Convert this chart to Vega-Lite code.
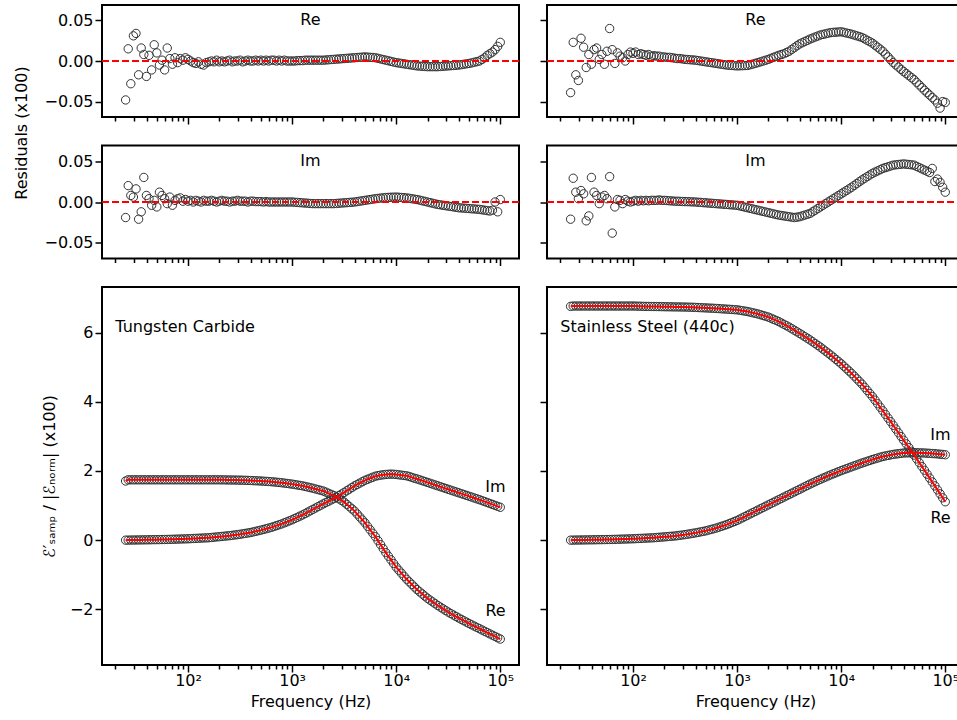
{
"$schema": "https://vega.github.io/schema/vega-lite/v6.json",
"padding": {"left": 12, "top": 4, "right": 0, "bottom": 0},
"autosize": {"type": "pad"},
"bounds": "flush",
"align": "each",
"columns": 2,
"spacing": {"row": 28.5, "column": 28},
"config": {
 "font": "DejaVu Sans",
 "view": {"stroke": "#000", "strokeWidth": 2},
 "axis": {"grid": false, "domain": false, "tickColor": "#000", "tickWidth": 1.5, "tickSize": 7, "labelFontSize": 16, "labelColor": "#000", "labelPadding": 2, "titleFontSize": 16, "titleFontWeight": "normal", "titleColor": "#000", "labelOverlap": false, "labelFlush": false, "labelBound": false}
},
"datasets": {
"wc": [
{"f":25.12,"re":1.71,"im":0,"rr":-0.048,"ri":-0.019},
{"f":26.61,"re":1.745,"im":0.001,"rr":0.015,"ri":0.02},
{"f":28.18,"re":1.745,"im":0.003,"rr":-0.028,"ri":0.008},
{"f":29.85,"re":1.745,"im":0.004,"rr":0.031,"ri":0.006},
{"f":31.62,"re":1.745,"im":0.005,"rr":0.034,"ri":0.016},
{"f":33.5,"re":1.745,"im":0.006,"rr":-0.017,"ri":-0.021},
{"f":35.48,"re":1.745,"im":0.008,"rr":0.016,"ri":-0.012},
{"f":37.58,"re":1.745,"im":0.009,"rr":0.008,"ri":0.03},
{"f":39.81,"re":1.745,"im":0.01,"rr":-0.019,"ri":0.008},
{"f":42.17,"re":1.745,"im":0.011,"rr":0.007,"ri":0.004},
{"f":44.67,"re":1.745,"im":0.013,"rr":-0.011,"ri":-0.004},
{"f":47.32,"re":1.745,"im":0.014,"rr":0.02,"ri":0.002},
{"f":50.12,"re":1.745,"im":0.015,"rr":0.01,"ri":-0.006},
{"f":53.09,"re":1.745,"im":0.016,"rr":-0.005,"ri":0.012},
{"f":56.23,"re":1.745,"im":0.018,"rr":0.001,"ri":0.008},
{"f":59.57,"re":1.745,"im":0.019,"rr":-0.011,"ri":0.004},
{"f":63.1,"re":1.745,"im":0.02,"rr":0.016,"ri":-0.002},
{"f":66.83,"re":1.745,"im":0.023,"rr":0.003,"ri":0.006},
{"f":70.79,"re":1.745,"im":0.025,"rr":-0.004,"ri":-0.004},
{"f":74.99,"re":1.745,"im":0.028,"rr":0.004,"ri":0.002},
{"f":79.43,"re":1.745,"im":0.03,"rr":-0.002,"ri":0.004},
{"f":84.14,"re":1.745,"im":0.033,"rr":0.003,"ri":0.005},
{"f":89.13,"re":1.745,"im":0.035,"rr":0.001,"ri":0.001},
{"f":94.41,"re":1.745,"im":0.038,"rr":0.004,"ri":0.003},
{"f":100,"re":1.745,"im":0.04,"rr":0.002,"ri":0.001},
{"f":105.9,"re":1.745,"im":0.044,"rr":0,"ri":0.002},
{"f":112.2,"re":1.745,"im":0.048,"rr":-0.002,"ri":0},
{"f":118.9,"re":1.745,"im":0.051,"rr":-0.003,"ri":0.002},
{"f":125.9,"re":1.745,"im":0.055,"rr":-0.001,"ri":0.001},
{"f":133.4,"re":1.745,"im":0.059,"rr":-0.004,"ri":0},
{"f":141.3,"re":1.745,"im":0.063,"rr":-0.005,"ri":0.002},
{"f":149.6,"re":1.745,"im":0.066,"rr":-0.002,"ri":0.001},
{"f":158.5,"re":1.745,"im":0.07,"rr":-0.001,"ri":0.001},
{"f":167.9,"re":1.745,"im":0.078,"rr":0,"ri":0.002},
{"f":177.8,"re":1.745,"im":0.085,"rr":-0.001,"ri":0.001},
{"f":188.4,"re":1.745,"im":0.093,"rr":0.001,"ri":0},
{"f":199.5,"re":1.745,"im":0.1,"rr":-0.001,"ri":0.001},
{"f":211.3,"re":1.744,"im":0.108,"rr":0,"ri":0.002},
{"f":223.9,"re":1.743,"im":0.115,"rr":-0.001,"ri":0.001},
{"f":237.1,"re":1.741,"im":0.123,"rr":0,"ri":0.001},
{"f":251.2,"re":1.74,"im":0.13,"rr":0.001,"ri":0},
{"f":266.1,"re":1.739,"im":0.14,"rr":-0.001,"ri":0.001},
{"f":281.8,"re":1.738,"im":0.15,"rr":0,"ri":0.001},
{"f":298.5,"re":1.736,"im":0.16,"rr":0,"ri":0.002},
{"f":316.2,"re":1.735,"im":0.17,"rr":0.001,"ri":0.001},
{"f":335,"re":1.733,"im":0.183,"rr":-0.001,"ri":0.001},
{"f":354.8,"re":1.73,"im":0.195,"rr":0,"ri":0.001},
{"f":375.8,"re":1.728,"im":0.208,"rr":0.001,"ri":0},
{"f":398.1,"re":1.725,"im":0.22,"rr":0,"ri":0.001},
{"f":421.7,"re":1.721,"im":0.238,"rr":0,"ri":0.001},
{"f":446.7,"re":1.718,"im":0.255,"rr":0.001,"ri":0.0005},
{"f":473.2,"re":1.714,"im":0.273,"rr":0,"ri":0.0005},
{"f":501.2,"re":1.71,"im":0.29,"rr":0.001,"ri":0.0005},
{"f":530.9,"re":1.705,"im":0.31,"rr":0,"ri":0},
{"f":562.3,"re":1.7,"im":0.33,"rr":0.001,"ri":0.0005},
{"f":595.7,"re":1.695,"im":0.35,"rr":0,"ri":0},
{"f":631,"re":1.69,"im":0.37,"rr":0.001,"ri":0},
{"f":668.3,"re":1.683,"im":0.395,"rr":0.001,"ri":0},
{"f":707.9,"re":1.675,"im":0.42,"rr":0,"ri":0},
{"f":749.9,"re":1.668,"im":0.445,"rr":0.001,"ri":0},
{"f":794.3,"re":1.66,"im":0.47,"rr":0,"ri":0},
{"f":841.4,"re":1.65,"im":0.5,"rr":0.001,"ri":0},
{"f":891.3,"re":1.64,"im":0.53,"rr":0,"ri":0},
{"f":944.1,"re":1.63,"im":0.56,"rr":0,"ri":0},
{"f":1000,"re":1.62,"im":0.59,"rr":0,"ri":0},
{"f":1059,"re":1.608,"im":0.625,"rr":0,"ri":-0.0003},
{"f":1122,"re":1.595,"im":0.66,"rr":0.0005,"ri":-0.0005},
{"f":1189,"re":1.583,"im":0.695,"rr":0.0005,"ri":-0.0008},
{"f":1259,"re":1.57,"im":0.73,"rr":0.0005,"ri":-0.001},
{"f":1334,"re":1.553,"im":0.77,"rr":0.001,"ri":-0.0013},
{"f":1413,"re":1.535,"im":0.81,"rr":0.001,"ri":-0.0015},
{"f":1496,"re":1.518,"im":0.85,"rr":0.001,"ri":-0.0018},
{"f":1585,"re":1.5,"im":0.89,"rr":0.001,"ri":-0.002},
{"f":1679,"re":1.48,"im":0.93,"rr":0.001,"ri":-0.002},
{"f":1778,"re":1.46,"im":0.97,"rr":0.001,"ri":-0.002},
{"f":1884,"re":1.44,"im":1.01,"rr":0.001,"ri":-0.002},
{"f":1995,"re":1.42,"im":1.05,"rr":0.001,"ri":-0.002},
{"f":2113,"re":1.388,"im":1.088,"rr":0.0013,"ri":-0.002},
{"f":2239,"re":1.355,"im":1.125,"rr":0.0015,"ri":-0.002},
{"f":2371,"re":1.323,"im":1.163,"rr":0.0018,"ri":-0.002},
{"f":2512,"re":1.29,"im":1.2,"rr":0.002,"ri":-0.002},
{"f":2661,"re":1.243,"im":1.245,"rr":0.0023,"ri":-0.0018},
{"f":2818,"re":1.195,"im":1.29,"rr":0.0025,"ri":-0.0015},
{"f":2985,"re":1.148,"im":1.335,"rr":0.0028,"ri":-0.0013},
{"f":3162,"re":1.1,"im":1.38,"rr":0.003,"ri":-0.001},
{"f":3350,"re":1.035,"im":1.428,"rr":0.0033,"ri":-0.0008},
{"f":3548,"re":0.97,"im":1.475,"rr":0.0035,"ri":-0.0005},
{"f":3758,"re":0.905,"im":1.523,"rr":0.0038,"ri":-0.0003},
{"f":3981,"re":0.84,"im":1.57,"rr":0.004,"ri":0},
{"f":4217,"re":0.755,"im":1.61,"rr":0.0043,"ri":0.0005},
{"f":4467,"re":0.67,"im":1.65,"rr":0.0045,"ri":0.001},
{"f":4732,"re":0.585,"im":1.69,"rr":0.0048,"ri":0.0015},
{"f":5012,"re":0.5,"im":1.73,"rr":0.005,"ri":0.002},
{"f":5309,"re":0.4,"im":1.76,"rr":0.0048,"ri":0.0025},
{"f":5623,"re":0.3,"im":1.79,"rr":0.0045,"ri":0.003},
{"f":5957,"re":0.2,"im":1.82,"rr":0.0043,"ri":0.0035},
{"f":6310,"re":0.1,"im":1.85,"rr":0.004,"ri":0.004},
{"f":6683,"re":-0.015,"im":1.865,"rr":0.0033,"ri":0.0044},
{"f":7079,"re":-0.13,"im":1.88,"rr":0.0025,"ri":0.0048},
{"f":7499,"re":-0.245,"im":1.89,"rr":0.0018,"ri":0.0051},
{"f":7943,"re":-0.36,"im":1.9,"rr":0.001,"ri":0.0055},
{"f":8414,"re":-0.465,"im":1.905,"rr":0.0003,"ri":0.0056},
{"f":8913,"re":-0.57,"im":1.91,"rr":-0.0005,"ri":0.0058},
{"f":9441,"re":-0.675,"im":1.905,"rr":-0.0013,"ri":0.0059},
{"f":10000,"re":-0.78,"im":1.9,"rr":-0.002,"ri":0.006},
{"f":10590,"re":-0.868,"im":1.89,"rr":-0.0025,"ri":0.0058},
{"f":11220,"re":-0.955,"im":1.88,"rr":-0.003,"ri":0.0055},
{"f":11890,"re":-1.043,"im":1.87,"rr":-0.0035,"ri":0.0053},
{"f":12590,"re":-1.13,"im":1.86,"rr":-0.004,"ri":0.005},
{"f":13340,"re":-1.205,"im":1.84,"rr":-0.0045,"ri":0.0045},
{"f":14130,"re":-1.28,"im":1.815,"rr":-0.005,"ri":0.004},
{"f":14960,"re":-1.355,"im":1.79,"rr":-0.0055,"ri":0.0035},
{"f":15850,"re":-1.43,"im":1.77,"rr":-0.006,"ri":0.003},
{"f":16790,"re":-1.493,"im":1.745,"rr":-0.0063,"ri":0.0023},
{"f":17780,"re":-1.555,"im":1.72,"rr":-0.0065,"ri":0.0015},
{"f":18840,"re":-1.618,"im":1.695,"rr":-0.0068,"ri":0.0008},
{"f":19950,"re":-1.68,"im":1.67,"rr":-0.007,"ri":0},
{"f":21130,"re":-1.733,"im":1.645,"rr":-0.007,"ri":-0.0008},
{"f":22390,"re":-1.785,"im":1.62,"rr":-0.007,"ri":-0.0015},
{"f":23710,"re":-1.838,"im":1.595,"rr":-0.007,"ri":-0.0023},
{"f":25120,"re":-1.89,"im":1.57,"rr":-0.007,"ri":-0.003},
{"f":26610,"re":-1.938,"im":1.545,"rr":-0.0068,"ri":-0.0035},
{"f":28180,"re":-1.985,"im":1.52,"rr":-0.0065,"ri":-0.004},
{"f":29850,"re":-2.033,"im":1.495,"rr":-0.0063,"ri":-0.0045},
{"f":31620,"re":-2.08,"im":1.47,"rr":-0.006,"ri":-0.005},
{"f":33500,"re":-2.123,"im":1.445,"rr":-0.0058,"ri":-0.0055},
{"f":35480,"re":-2.165,"im":1.42,"rr":-0.0055,"ri":-0.006},
{"f":37580,"re":-2.208,"im":1.395,"rr":-0.0053,"ri":-0.0065},
{"f":39810,"re":-2.25,"im":1.37,"rr":-0.005,"ri":-0.007},
{"f":42170,"re":-2.29,"im":1.345,"rr":-0.0045,"ri":-0.0073},
{"f":44670,"re":-2.33,"im":1.32,"rr":-0.004,"ri":-0.0075},
{"f":47320,"re":-2.37,"im":1.295,"rr":-0.0035,"ri":-0.0078},
{"f":50120,"re":-2.41,"im":1.27,"rr":-0.003,"ri":-0.008},
{"f":53090,"re":-2.448,"im":1.245,"rr":-0.0023,"ri":-0.0083},
{"f":56230,"re":-2.485,"im":1.22,"rr":-0.0015,"ri":-0.0085},
{"f":59570,"re":-2.523,"im":1.195,"rr":-0.0008,"ri":-0.0088},
{"f":63100,"re":-2.56,"im":1.17,"rr":0,"ri":-0.009},
{"f":66830,"re":-2.598,"im":1.143,"rr":0.002,"ri":-0.0095},
{"f":70790,"re":-2.635,"im":1.115,"rr":0.004,"ri":-0.01},
{"f":74990,"re":-2.673,"im":1.088,"rr":0.007,"ri":-0.0105},
{"f":79430,"re":-2.71,"im":1.06,"rr":0.009,"ri":-0.011},
{"f":84140,"re":-2.748,"im":1.033,"rr":0.011,"ri":-0.01},
{"f":89130,"re":-2.785,"im":1.005,"rr":0.014,"ri":0},
{"f":94410,"re":-2.823,"im":0.978,"rr":0.018,"ri":-0.012},
{"f":100000,"re":-2.86,"im":0.95,"rr":0.023,"ri":0.003}
],
"ss": [
{"f":25.12,"re":6.76,"im":0,"rr":-0.039,"ri":-0.021},
{"f":26.61,"re":6.77,"im":0.001,"rr":0.023,"ri":0.029},
{"f":28.18,"re":6.77,"im":0.003,"rr":-0.017,"ri":0.012},
{"f":29.85,"re":6.77,"im":0.004,"rr":-0.024,"ri":0.004},
{"f":31.62,"re":6.77,"im":0.005,"rr":0.028,"ri":0.014},
{"f":33.5,"re":6.77,"im":0.006,"rr":0.017,"ri":0.01},
{"f":35.48,"re":6.77,"im":0.008,"rr":-0.008,"ri":-0.023},
{"f":37.58,"re":6.77,"im":0.009,"rr":0.008,"ri":-0.017},
{"f":39.81,"re":6.77,"im":0.01,"rr":-0.004,"ri":0.03},
{"f":42.17,"re":6.77,"im":0.011,"rr":0.014,"ri":0.012},
{"f":44.67,"re":6.77,"im":0.013,"rr":0.016,"ri":0.008},
{"f":47.32,"re":6.77,"im":0.014,"rr":0.002,"ri":-0.002},
{"f":50.12,"re":6.77,"im":0.015,"rr":0.008,"ri":0.006},
{"f":53.09,"re":6.77,"im":0.016,"rr":-0.004,"ri":0.008},
{"f":56.23,"re":6.77,"im":0.018,"rr":0.012,"ri":0.004},
{"f":59.57,"re":6.77,"im":0.019,"rr":0.04,"ri":0.031},
{"f":63.1,"re":6.77,"im":0.02,"rr":0.014,"ri":-0.038},
{"f":66.83,"re":6.77,"im":0.023,"rr":-0.003,"ri":-0.006},
{"f":70.79,"re":6.77,"im":0.025,"rr":0.01,"ri":0.003},
{"f":74.99,"re":6.77,"im":0.028,"rr":0.006,"ri":0.002},
{"f":79.43,"re":6.77,"im":0.03,"rr":0.004,"ri":-0.002},
{"f":84.14,"re":6.77,"im":0.033,"rr":0,"ri":0.003},
{"f":89.13,"re":6.77,"im":0.035,"rr":0.008,"ri":0.001},
{"f":94.41,"re":6.77,"im":0.038,"rr":0.011,"ri":0},
{"f":100,"re":6.77,"im":0.04,"rr":0.0095,"ri":0.001},
{"f":105.9,"re":6.768,"im":0.044,"rr":0.011,"ri":0.002},
{"f":112.2,"re":6.765,"im":0.048,"rr":0.008,"ri":0.001},
{"f":118.9,"re":6.763,"im":0.051,"rr":0.009,"ri":0.002},
{"f":125.9,"re":6.76,"im":0.055,"rr":0.008,"ri":0.0015},
{"f":133.4,"re":6.759,"im":0.059,"rr":0.007,"ri":0.002},
{"f":141.3,"re":6.758,"im":0.063,"rr":0.008,"ri":0.0015},
{"f":149.6,"re":6.757,"im":0.066,"rr":0.006,"ri":0.002},
{"f":158.5,"re":6.756,"im":0.07,"rr":0.0065,"ri":0.002},
{"f":167.9,"re":6.755,"im":0.076,"rr":0.006,"ri":0.002},
{"f":177.8,"re":6.754,"im":0.083,"rr":0.006,"ri":0.0025},
{"f":188.4,"re":6.752,"im":0.089,"rr":0.005,"ri":0.002},
{"f":199.5,"re":6.75,"im":0.095,"rr":0.005,"ri":0.002},
{"f":211.3,"re":6.749,"im":0.101,"rr":0.0045,"ri":0.0018},
{"f":223.9,"re":6.748,"im":0.108,"rr":0.0045,"ri":0.0015},
{"f":237.1,"re":6.746,"im":0.114,"rr":0.004,"ri":0.0013},
{"f":251.2,"re":6.745,"im":0.12,"rr":0.0035,"ri":0.001},
{"f":266.1,"re":6.744,"im":0.13,"rr":0.003,"ri":0.0009},
{"f":281.8,"re":6.743,"im":0.14,"rr":0.003,"ri":0.0008},
{"f":298.5,"re":6.741,"im":0.15,"rr":0.0025,"ri":0.0006},
{"f":316.2,"re":6.74,"im":0.16,"rr":0.002,"ri":0.0005},
{"f":335,"re":6.738,"im":0.173,"rr":0.0018,"ri":0.0004},
{"f":354.8,"re":6.735,"im":0.185,"rr":0.0015,"ri":0.0003},
{"f":375.8,"re":6.733,"im":0.198,"rr":0.0013,"ri":0.0001},
{"f":398.1,"re":6.73,"im":0.21,"rr":0.001,"ri":0},
{"f":421.7,"re":6.726,"im":0.225,"rr":0.0005,"ri":-0.0003},
{"f":446.7,"re":6.722,"im":0.24,"rr":0,"ri":-0.0005},
{"f":473.2,"re":6.719,"im":0.255,"rr":-0.0005,"ri":-0.0008},
{"f":501.2,"re":6.715,"im":0.27,"rr":-0.001,"ri":-0.001},
{"f":530.9,"re":6.711,"im":0.29,"rr":-0.0015,"ri":-0.0013},
{"f":562.3,"re":6.708,"im":0.31,"rr":-0.002,"ri":-0.0015},
{"f":595.7,"re":6.704,"im":0.33,"rr":-0.0025,"ri":-0.0018},
{"f":631,"re":6.7,"im":0.35,"rr":-0.003,"ri":-0.002},
{"f":668.3,"re":6.695,"im":0.375,"rr":-0.0035,"ri":-0.0023},
{"f":707.9,"re":6.69,"im":0.4,"rr":-0.004,"ri":-0.0025},
{"f":749.9,"re":6.685,"im":0.425,"rr":-0.0045,"ri":-0.0028},
{"f":794.3,"re":6.68,"im":0.45,"rr":-0.005,"ri":-0.003},
{"f":841.4,"re":6.675,"im":0.48,"rr":-0.0053,"ri":-0.0033},
{"f":891.3,"re":6.67,"im":0.51,"rr":-0.0055,"ri":-0.0035},
{"f":944.1,"re":6.665,"im":0.54,"rr":-0.0058,"ri":-0.0038},
{"f":1000,"re":6.66,"im":0.57,"rr":-0.006,"ri":-0.004},
{"f":1059,"re":6.648,"im":0.608,"rr":-0.0059,"ri":-0.0048},
{"f":1122,"re":6.635,"im":0.645,"rr":-0.0058,"ri":-0.0055},
{"f":1189,"re":6.623,"im":0.683,"rr":-0.0056,"ri":-0.0063},
{"f":1259,"re":6.61,"im":0.72,"rr":-0.0055,"ri":-0.007},
{"f":1334,"re":6.593,"im":0.758,"rr":-0.0046,"ri":-0.0078},
{"f":1413,"re":6.575,"im":0.795,"rr":-0.0038,"ri":-0.0085},
{"f":1496,"re":6.558,"im":0.833,"rr":-0.0029,"ri":-0.0093},
{"f":1585,"re":6.54,"im":0.87,"rr":-0.002,"ri":-0.01},
{"f":1679,"re":6.518,"im":0.908,"rr":-0.001,"ri":-0.0108},
{"f":1778,"re":6.495,"im":0.945,"rr":0,"ri":-0.0115},
{"f":1884,"re":6.473,"im":0.983,"rr":0.001,"ri":-0.0123},
{"f":1995,"re":6.45,"im":1.02,"rr":0.002,"ri":-0.013},
{"f":2113,"re":6.418,"im":1.058,"rr":0.0033,"ri":-0.0138},
{"f":2239,"re":6.385,"im":1.095,"rr":0.0045,"ri":-0.0145},
{"f":2371,"re":6.353,"im":1.133,"rr":0.0058,"ri":-0.0153},
{"f":2512,"re":6.32,"im":1.17,"rr":0.007,"ri":-0.016},
{"f":2661,"re":6.28,"im":1.208,"rr":0.008,"ri":-0.0165},
{"f":2818,"re":6.24,"im":1.245,"rr":0.009,"ri":-0.017},
{"f":2985,"re":6.2,"im":1.283,"rr":0.0105,"ri":-0.0175},
{"f":3162,"re":6.16,"im":1.32,"rr":0.012,"ri":-0.018},
{"f":3350,"re":6.115,"im":1.358,"rr":0.0143,"ri":-0.0185},
{"f":3548,"re":6.07,"im":1.395,"rr":0.0165,"ri":-0.019},
{"f":3758,"re":6.025,"im":1.433,"rr":0.0188,"ri":-0.0185},
{"f":3981,"re":5.98,"im":1.47,"rr":0.021,"ri":-0.018},
{"f":4217,"re":5.933,"im":1.508,"rr":0.0225,"ri":-0.017},
{"f":4467,"re":5.885,"im":1.545,"rr":0.024,"ri":-0.016},
{"f":4732,"re":5.838,"im":1.583,"rr":0.0255,"ri":-0.015},
{"f":5012,"re":5.79,"im":1.62,"rr":0.027,"ri":-0.014},
{"f":5309,"re":5.738,"im":1.655,"rr":0.0283,"ri":-0.012},
{"f":5623,"re":5.685,"im":1.69,"rr":0.0295,"ri":-0.01},
{"f":5957,"re":5.633,"im":1.725,"rr":0.0308,"ri":-0.008},
{"f":6310,"re":5.58,"im":1.76,"rr":0.032,"ri":-0.006},
{"f":6683,"re":5.523,"im":1.793,"rr":0.0328,"ri":-0.004},
{"f":7079,"re":5.465,"im":1.825,"rr":0.0335,"ri":-0.002},
{"f":7499,"re":5.408,"im":1.858,"rr":0.0343,"ri":0},
{"f":7943,"re":5.35,"im":1.89,"rr":0.035,"ri":0.002},
{"f":8414,"re":5.288,"im":1.92,"rr":0.0353,"ri":0.004},
{"f":8913,"re":5.225,"im":1.95,"rr":0.0355,"ri":0.006},
{"f":9441,"re":5.163,"im":1.98,"rr":0.0358,"ri":0.008},
{"f":10000,"re":5.1,"im":2.01,"rr":0.036,"ri":0.01},
{"f":10590,"re":5.03,"im":2.038,"rr":0.0353,"ri":0.012},
{"f":11220,"re":4.96,"im":2.065,"rr":0.0345,"ri":0.014},
{"f":11890,"re":4.89,"im":2.093,"rr":0.0338,"ri":0.016},
{"f":12590,"re":4.82,"im":2.12,"rr":0.033,"ri":0.018},
{"f":13340,"re":4.743,"im":2.148,"rr":0.032,"ri":0.0203},
{"f":14130,"re":4.665,"im":2.175,"rr":0.031,"ri":0.0225},
{"f":14960,"re":4.588,"im":2.203,"rr":0.03,"ri":0.0248},
{"f":15850,"re":4.51,"im":2.23,"rr":0.029,"ri":0.027},
{"f":16790,"re":4.42,"im":2.255,"rr":0.0273,"ri":0.029},
{"f":17780,"re":4.33,"im":2.28,"rr":0.0255,"ri":0.031},
{"f":18840,"re":4.24,"im":2.305,"rr":0.0238,"ri":0.033},
{"f":19950,"re":4.15,"im":2.33,"rr":0.022,"ri":0.035},
{"f":21130,"re":4.048,"im":2.353,"rr":0.0195,"ri":0.0365},
{"f":22390,"re":3.945,"im":2.375,"rr":0.017,"ri":0.038},
{"f":23710,"re":3.843,"im":2.398,"rr":0.0145,"ri":0.0395},
{"f":25120,"re":3.74,"im":2.42,"rr":0.012,"ri":0.041},
{"f":26610,"re":3.635,"im":2.435,"rr":0.0085,"ri":0.042},
{"f":28180,"re":3.53,"im":2.45,"rr":0.005,"ri":0.043},
{"f":29850,"re":3.425,"im":2.465,"rr":0.0015,"ri":0.044},
{"f":31620,"re":3.32,"im":2.48,"rr":-0.002,"ri":0.045},
{"f":33500,"re":3.213,"im":2.49,"rr":-0.0048,"ri":0.0454},
{"f":35480,"re":3.105,"im":2.5,"rr":-0.0075,"ri":0.0458},
{"f":37580,"re":2.998,"im":2.51,"rr":-0.0103,"ri":0.0461},
{"f":39810,"re":2.89,"im":2.52,"rr":-0.013,"ri":0.0465},
{"f":42170,"re":2.783,"im":2.523,"rr":-0.0155,"ri":0.0461},
{"f":44670,"re":2.675,"im":2.525,"rr":-0.018,"ri":0.0458},
{"f":47320,"re":2.568,"im":2.528,"rr":-0.0205,"ri":0.0454},
{"f":50120,"re":2.46,"im":2.53,"rr":-0.023,"ri":0.045},
{"f":53090,"re":2.35,"im":2.528,"rr":-0.0263,"ri":0.0435},
{"f":56230,"re":2.24,"im":2.525,"rr":-0.0295,"ri":0.042},
{"f":59570,"re":2.13,"im":2.523,"rr":-0.0328,"ri":0.0405},
{"f":63100,"re":2.02,"im":2.52,"rr":-0.036,"ri":0.039},
{"f":66830,"re":1.908,"im":2.515,"rr":-0.039,"ri":0.0375},
{"f":70790,"re":1.795,"im":2.51,"rr":-0.042,"ri":0.036},
{"f":74990,"re":1.683,"im":2.505,"rr":-0.045,"ri":0.041},
{"f":79430,"re":1.57,"im":2.5,"rr":-0.048,"ri":0.025},
{"f":84140,"re":1.455,"im":2.493,"rr":-0.052,"ri":0.028},
{"f":89130,"re":1.34,"im":2.485,"rr":-0.058,"ri":0.024},
{"f":94410,"re":1.225,"im":2.478,"rr":-0.05,"ri":0.018},
{"f":100000,"re":1.11,"im":2.47,"rr":-0.051,"ri":0.012}
]
},
"concat": [
{
 "width": 417, "height": 112,
 "layer": [
  {"data": {"name": "wc"}, "mark": {"type": "point", "shape": "circle", "filled": false, "color": "#333333", "strokeWidth": 1, "size": 70, "opacity": 1},
   "encoding": {
    "x": {"field": "f", "type": "quantitative", "scale": {"type": "log", "domain": [14.9, 151300], "nice": false}, "axis": {"values": [20,30,40,50,60,70,80,90,100,200,300,400,500,600,700,800,900,1000,2000,3000,4000,5000,6000,7000,8000,9000,10000,20000,30000,40000,50000,60000,70000,80000,90000,100000], "labels": false, "title": null, "tickSize": {"condition": {"test": "datum.value==100||datum.value==1000||datum.value==10000||datum.value==100000", "value": 7}, "value": 4}}},
    "y": {"field": "rr", "type": "quantitative", "scale": {"domain": [-0.069, 0.069], "nice": false, "zero": false}, "axis": {"values": [-0.05, 0, 0.05], "format": ".2f", "title": "Residuals (x100)", "titleX": -75.7, "titleY": 127.5, "titleAngle": 270, "titleBaseline": "alphabetic"}}
   }},
  {"data": {"values": [{"v": 0}]}, "mark": {"type": "rule", "color": "#ff0000", "strokeWidth": 2, "strokeDash": [7, 3]},
   "encoding": {"y": {"field": "v", "type": "quantitative", "scale": {"domain": [-0.069, 0.069], "nice": false, "zero": false}}}},
  {"data": {"values": [{"f": 1500, "v": 0.05, "t": "Re"}]}, "mark": {"type": "text", "fontSize": 16, "color": "#000", "align": "center", "baseline": "middle"},
   "encoding": {
    "x": {"field": "f", "type": "quantitative", "scale": {"type": "log", "domain": [14.9, 151300], "nice": false}},
    "y": {"field": "v", "type": "quantitative", "scale": {"domain": [-0.069, 0.069], "nice": false, "zero": false}},
    "text": {"field": "t"}}}
 ]
},
{
 "width": 417, "height": 112,
 "layer": [
  {"data": {"name": "ss"}, "mark": {"type": "point", "shape": "circle", "filled": false, "color": "#333333", "strokeWidth": 1, "size": 70, "opacity": 1},
   "encoding": {
    "x": {"field": "f", "type": "quantitative", "scale": {"type": "log", "domain": [14.9, 151300], "nice": false}, "axis": {"values": [20,30,40,50,60,70,80,90,100,200,300,400,500,600,700,800,900,1000,2000,3000,4000,5000,6000,7000,8000,9000,10000,20000,30000,40000,50000,60000,70000,80000,90000,100000], "labels": false, "title": null, "tickSize": {"condition": {"test": "datum.value==100||datum.value==1000||datum.value==10000||datum.value==100000", "value": 7}, "value": 4}}},
    "y": {"field": "rr", "type": "quantitative", "scale": {"domain": [-0.069, 0.069], "nice": false, "zero": false}, "axis": {"values": [-0.05, 0, 0.05], "labels": false, "title": null}}
   }},
  {"data": {"values": [{"v": 0}]}, "mark": {"type": "rule", "color": "#ff0000", "strokeWidth": 2, "strokeDash": [7, 3]},
   "encoding": {"y": {"field": "v", "type": "quantitative", "scale": {"domain": [-0.069, 0.069], "nice": false, "zero": false}}}},
  {"data": {"values": [{"f": 1500, "v": 0.05, "t": "Re"}]}, "mark": {"type": "text", "fontSize": 16, "color": "#000", "align": "center", "baseline": "middle"},
   "encoding": {
    "x": {"field": "f", "type": "quantitative", "scale": {"type": "log", "domain": [14.9, 151300], "nice": false}},
    "y": {"field": "v", "type": "quantitative", "scale": {"domain": [-0.069, 0.069], "nice": false, "zero": false}},
    "text": {"field": "t"}}}
 ]
},
{
 "width": 417, "height": 113,
 "layer": [
  {"data": {"name": "wc"}, "mark": {"type": "point", "shape": "circle", "filled": false, "color": "#333333", "strokeWidth": 1, "size": 70, "opacity": 1},
   "encoding": {
    "x": {"field": "f", "type": "quantitative", "scale": {"type": "log", "domain": [14.9, 151300], "nice": false}, "axis": {"values": [20,30,40,50,60,70,80,90,100,200,300,400,500,600,700,800,900,1000,2000,3000,4000,5000,6000,7000,8000,9000,10000,20000,30000,40000,50000,60000,70000,80000,90000,100000], "labels": false, "title": null, "tickSize": {"condition": {"test": "datum.value==100||datum.value==1000||datum.value==10000||datum.value==100000", "value": 7}, "value": 4}}},
    "y": {"field": "ri", "type": "quantitative", "scale": {"domain": [-0.069, 0.069], "nice": false, "zero": false}, "axis": {"values": [-0.05, 0, 0.05], "format": ".2f", "title": null}}
   }},
  {"data": {"values": [{"v": 0}]}, "mark": {"type": "rule", "color": "#ff0000", "strokeWidth": 2, "strokeDash": [7, 3]},
   "encoding": {"y": {"field": "v", "type": "quantitative", "scale": {"domain": [-0.069, 0.069], "nice": false, "zero": false}}}},
  {"data": {"values": [{"f": 1500, "v": 0.05, "t": "Im"}]}, "mark": {"type": "text", "fontSize": 16, "color": "#000", "align": "center", "baseline": "middle"},
   "encoding": {
    "x": {"field": "f", "type": "quantitative", "scale": {"type": "log", "domain": [14.9, 151300], "nice": false}},
    "y": {"field": "v", "type": "quantitative", "scale": {"domain": [-0.069, 0.069], "nice": false, "zero": false}},
    "text": {"field": "t"}}}
 ]
},
{
 "width": 417, "height": 113,
 "layer": [
  {"data": {"name": "ss"}, "mark": {"type": "point", "shape": "circle", "filled": false, "color": "#333333", "strokeWidth": 1, "size": 70, "opacity": 1},
   "encoding": {
    "x": {"field": "f", "type": "quantitative", "scale": {"type": "log", "domain": [14.9, 151300], "nice": false}, "axis": {"values": [20,30,40,50,60,70,80,90,100,200,300,400,500,600,700,800,900,1000,2000,3000,4000,5000,6000,7000,8000,9000,10000,20000,30000,40000,50000,60000,70000,80000,90000,100000], "labels": false, "title": null, "tickSize": {"condition": {"test": "datum.value==100||datum.value==1000||datum.value==10000||datum.value==100000", "value": 7}, "value": 4}}},
    "y": {"field": "ri", "type": "quantitative", "scale": {"domain": [-0.069, 0.069], "nice": false, "zero": false}, "axis": {"values": [-0.05, 0, 0.05], "labels": false, "title": null}}
   }},
  {"data": {"values": [{"v": 0}]}, "mark": {"type": "rule", "color": "#ff0000", "strokeWidth": 2, "strokeDash": [7, 3]},
   "encoding": {"y": {"field": "v", "type": "quantitative", "scale": {"domain": [-0.069, 0.069], "nice": false, "zero": false}}}},
  {"data": {"values": [{"f": 1500, "v": 0.05, "t": "Im"}]}, "mark": {"type": "text", "fontSize": 16, "color": "#000", "align": "center", "baseline": "middle"},
   "encoding": {
    "x": {"field": "f", "type": "quantitative", "scale": {"type": "log", "domain": [14.9, 151300], "nice": false}},
    "y": {"field": "v", "type": "quantitative", "scale": {"domain": [-0.069, 0.069], "nice": false, "zero": false}},
    "text": {"field": "t"}}}
 ]
},
{
 "width": 417, "height": 378,
 "layer": [
  {"data": {"name": "wc"}, "mark": {"type": "point", "shape": "circle", "filled": false, "color": "#333333", "strokeWidth": 1, "size": 70, "opacity": 1},
   "encoding": {
    "x": {"field": "f", "type": "quantitative", "scale": {"type": "log", "domain": [14.9, 151300], "nice": false}, "axis": {"values": [20,30,40,50,60,70,80,90,100,200,300,400,500,600,700,800,900,1000,2000,3000,4000,5000,6000,7000,8000,9000,10000,20000,30000,40000,50000,60000,70000,80000,90000,100000], "labelExpr": "datum.value==100 ? '10²' : datum.value==1000 ? '10³' : datum.value==10000 ? '10⁴' : datum.value==100000 ? '10⁵' : ''", "labelPadding": 0, "title": "Frequency (Hz)", "titlePadding": 5, "tickSize": {"condition": {"test": "datum.value==100||datum.value==1000||datum.value==10000||datum.value==100000", "value": 7}, "value": 4}}},
    "y": {"field": "re", "type": "quantitative", "scale": {"domain": [-3.61, 7.32], "nice": false, "zero": false}, "axis": {"values": [-2, 0, 2, 4, 6], "title": "ℰ′ₛₐₘₚ / |ℰₙₒᵣₘ| (x100)", "titleX": -48, "titleAngle": 270, "titleBaseline": "alphabetic"}}
   }},
  {"data": {"name": "wc"}, "mark": {"type": "point", "shape": "circle", "filled": false, "color": "#333333", "strokeWidth": 1, "size": 70, "opacity": 1},
   "encoding": {
    "x": {"field": "f", "type": "quantitative", "scale": {"type": "log", "domain": [14.9, 151300], "nice": false}},
    "y": {"field": "im", "type": "quantitative", "scale": {"domain": [-3.61, 7.32], "nice": false, "zero": false}}
   }},
  {"data": {"name": "wc"}, "mark": {"type": "line", "color": "#ff0000", "strokeWidth": 2},
   "encoding": {
    "x": {"field": "f", "type": "quantitative", "scale": {"type": "log", "domain": [14.9, 151300], "nice": false}},
    "y": {"field": "re", "type": "quantitative", "scale": {"domain": [-3.61, 7.32], "nice": false, "zero": false}}
   }},
  {"data": {"name": "wc"}, "mark": {"type": "line", "color": "#ff0000", "strokeWidth": 2},
   "encoding": {
    "x": {"field": "f", "type": "quantitative", "scale": {"type": "log", "domain": [14.9, 151300], "nice": false}},
    "y": {"field": "im", "type": "quantitative", "scale": {"domain": [-3.61, 7.32], "nice": false, "zero": false}}
   }},
  {"data": {"values": [{"f": 90000, "v": 1.54, "t": "Im"}, {"f": 90000, "v": -2.05, "t": "Re"}]}, "mark": {"type": "text", "fontSize": 16, "color": "#000", "align": "center", "baseline": "middle"},
   "encoding": {
    "x": {"field": "f", "type": "quantitative", "scale": {"type": "log", "domain": [14.9, 151300], "nice": false}},
    "y": {"field": "v", "type": "quantitative", "scale": {"domain": [-3.61, 7.32], "nice": false, "zero": false}},
    "text": {"field": "t"}}},
  {"data": {"values": [{"f": 20, "v": 6.15, "t": "Tungsten Carbide"}]}, "mark": {"type": "text", "fontSize": 16, "color": "#000", "align": "left", "baseline": "middle"},
   "encoding": {
    "x": {"field": "f", "type": "quantitative", "scale": {"type": "log", "domain": [14.9, 151300], "nice": false}},
    "y": {"field": "v", "type": "quantitative", "scale": {"domain": [-3.61, 7.32], "nice": false, "zero": false}},
    "text": {"field": "t"}}}
 ]
},
{
 "width": 417, "height": 378,
 "layer": [
  {"data": {"name": "ss"}, "mark": {"type": "point", "shape": "circle", "filled": false, "color": "#333333", "strokeWidth": 1, "size": 70, "opacity": 1},
   "encoding": {
    "x": {"field": "f", "type": "quantitative", "scale": {"type": "log", "domain": [14.9, 151300], "nice": false}, "axis": {"values": [20,30,40,50,60,70,80,90,100,200,300,400,500,600,700,800,900,1000,2000,3000,4000,5000,6000,7000,8000,9000,10000,20000,30000,40000,50000,60000,70000,80000,90000,100000], "labelExpr": "datum.value==100 ? '10²' : datum.value==1000 ? '10³' : datum.value==10000 ? '10⁴' : datum.value==100000 ? '10⁵' : ''", "labelPadding": 0, "title": "Frequency (Hz)", "titlePadding": 5, "tickSize": {"condition": {"test": "datum.value==100||datum.value==1000||datum.value==10000||datum.value==100000", "value": 7}, "value": 4}}},
    "y": {"field": "re", "type": "quantitative", "scale": {"domain": [-3.61, 7.32], "nice": false, "zero": false}, "axis": {"values": [-2, 0, 2, 4, 6], "labels": false, "title": null}}
   }},
  {"data": {"name": "ss"}, "mark": {"type": "point", "shape": "circle", "filled": false, "color": "#333333", "strokeWidth": 1, "size": 70, "opacity": 1},
   "encoding": {
    "x": {"field": "f", "type": "quantitative", "scale": {"type": "log", "domain": [14.9, 151300], "nice": false}},
    "y": {"field": "im", "type": "quantitative", "scale": {"domain": [-3.61, 7.32], "nice": false, "zero": false}}
   }},
  {"data": {"name": "ss"}, "mark": {"type": "line", "color": "#ff0000", "strokeWidth": 2},
   "encoding": {
    "x": {"field": "f", "type": "quantitative", "scale": {"type": "log", "domain": [14.9, 151300], "nice": false}},
    "y": {"field": "re", "type": "quantitative", "scale": {"domain": [-3.61, 7.32], "nice": false, "zero": false}}
   }},
  {"data": {"name": "ss"}, "mark": {"type": "line", "color": "#ff0000", "strokeWidth": 2},
   "encoding": {
    "x": {"field": "f", "type": "quantitative", "scale": {"type": "log", "domain": [14.9, 151300], "nice": false}},
    "y": {"field": "im", "type": "quantitative", "scale": {"domain": [-3.61, 7.32], "nice": false, "zero": false}}
   }},
  {"data": {"values": [{"f": 90000, "v": 3.05, "t": "Im"}, {"f": 90000, "v": 0.655, "t": "Re"}]}, "mark": {"type": "text", "fontSize": 16, "color": "#000", "align": "center", "baseline": "middle"},
   "encoding": {
    "x": {"field": "f", "type": "quantitative", "scale": {"type": "log", "domain": [14.9, 151300], "nice": false}},
    "y": {"field": "v", "type": "quantitative", "scale": {"domain": [-3.61, 7.32], "nice": false, "zero": false}},
    "text": {"field": "t"}}},
  {"data": {"values": [{"f": 20, "v": 6.15, "t": "Stainless Steel (440c)"}]}, "mark": {"type": "text", "fontSize": 16, "color": "#000", "align": "left", "baseline": "middle"},
   "encoding": {
    "x": {"field": "f", "type": "quantitative", "scale": {"type": "log", "domain": [14.9, 151300], "nice": false}},
    "y": {"field": "v", "type": "quantitative", "scale": {"domain": [-3.61, 7.32], "nice": false, "zero": false}},
    "text": {"field": "t"}}}
 ]
}
]
}
